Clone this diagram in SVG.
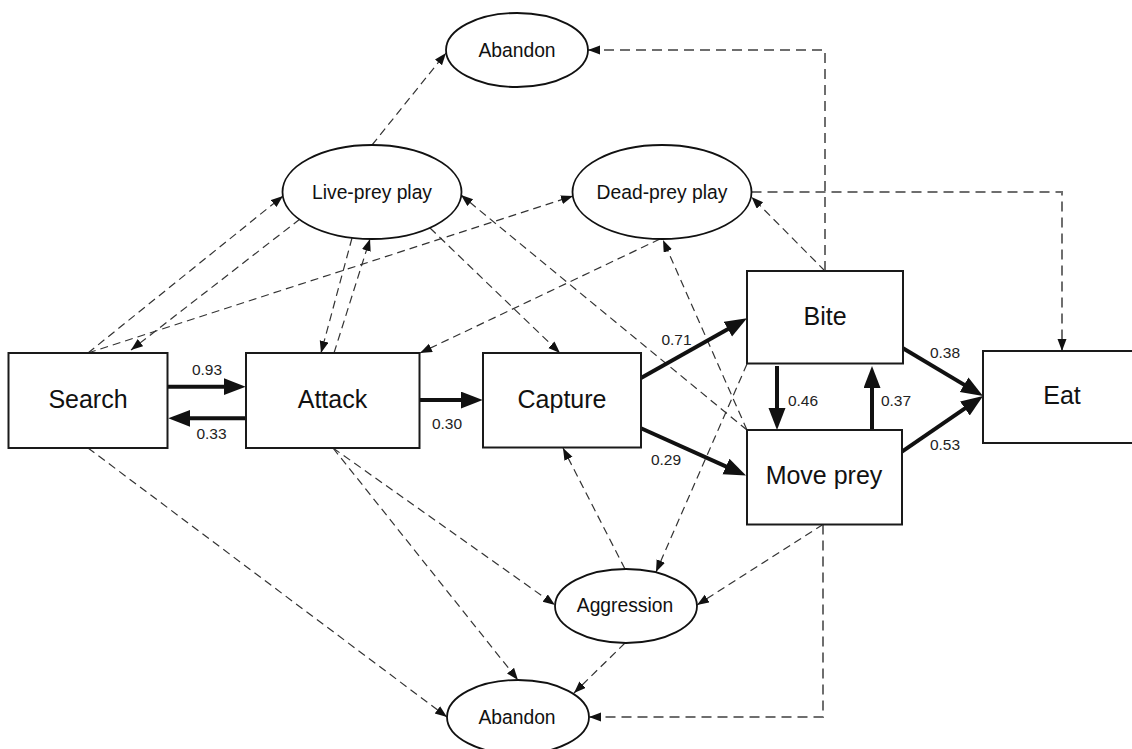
<svg xmlns="http://www.w3.org/2000/svg" width="1132" height="749" viewBox="0 0 1132 749">
<style>
.box{fill:#fff;stroke:#1a1a1a;stroke-width:2}
.ell{fill:#fff;stroke:#111;stroke-width:1.8}
.bt{font-family:"Liberation Sans",Arial,sans-serif;font-size:25px;fill:#111;text-anchor:middle}
.et{font-family:"Liberation Sans",Arial,sans-serif;font-size:19.3px;fill:#111;text-anchor:middle}
.nt{font-family:"Liberation Sans",Arial,sans-serif;font-size:15.5px;fill:#222;text-anchor:middle}
.thick{fill:none;stroke:#111;stroke-width:4;marker-end:url(#AH)}
.dash{fill:none;stroke:#333;stroke-width:1.2;stroke-dasharray:8 5;marker-end:url(#ah)}
.odash{fill:none;stroke:#6e6e6e;stroke-width:2;stroke-dasharray:10 6;marker-end:url(#ah)}
</style>
<defs>
<marker id="ah" markerWidth="13" markerHeight="10" refX="12" refY="4.5" orient="auto" markerUnits="userSpaceOnUse"><path d="M0,0 L12,4.5 L0,9 z" fill="#111"/></marker>
<marker id="AH" markerWidth="23" markerHeight="18" refX="12" refY="8.5" orient="auto" markerUnits="userSpaceOnUse"><path d="M0,0 L22,8.5 L0,17 z" fill="#111"/></marker>
</defs>
<rect width="1132" height="749" fill="#fff"/>
<g id="connectors">
<path class="dash" d="M88,353 L283,196"/>
<path class="dash" d="M300,219 L131,350"/>
<path class="dash" d="M88,353 L573,196"/>
<path class="dash" d="M352,238 L321,353"/>
<path class="dash" d="M334,353 L370,239"/>
<path class="dash" d="M430,228 L560,353"/>
<path class="dash" d="M747,430 L461,195"/>
<path class="dash" d="M660,239 L420,353"/>
<path class="dash" d="M747,430 L663,240"/>
<path class="dash" d="M825,271 L751.5,197"/>
<path class="odash" d="M825,271 L825,50 L588,50"/>
<path class="odash" d="M751.5,192 L1062,192 L1062,351"/>
<path class="dash" d="M747,364 L656,572"/>
<path class="dash" d="M625,569 L563,448"/>
<path class="dash" d="M823,524.5 L697,605"/>
<path class="odash" d="M823,524.5 L823,717 L589,717"/>
<path class="dash" d="M625,643 L574,693"/>
<path class="dash" d="M88,448 L447,717"/>
<path class="dash" d="M333,448 L555,605"/>
<path class="dash" d="M333,448 L518,680"/>
<path class="dash" d="M372,145 L446,53"/>
<path class="thick" d="M167.3,386.7 L235.7,386.7"/>
<path class="thick" d="M245.7,418.3 L178.3,418.3"/>
<path class="thick" d="M419.3,400 L472.7,400"/>
<path class="thick" d="M641,378 L738.3,323.2"/>
<path class="thick" d="M641,428.3 L736.9,471.4"/>
<path class="thick" d="M777,366 L777,420"/>
<path class="thick" d="M872,430 L872,376"/>
<path class="thick" d="M903,348.3 L974.4,390.9"/>
<path class="thick" d="M902,451.7 L974.8,401.7"/>
<text class="nt" x="207" y="375">0.93</text>
<text class="nt" x="211.5" y="439.3">0.33</text>
<text class="nt" x="447" y="429.3">0.30</text>
<text class="nt" x="676.5" y="345">0.71</text>
<text class="nt" x="666" y="465">0.29</text>
<text class="nt" x="803" y="405.7">0.46</text>
<text class="nt" x="896" y="405.7">0.37</text>
<text class="nt" x="945" y="358.3">0.38</text>
<text class="nt" x="945" y="450">0.53</text>
</g>
<g id="search"><rect class="box" x="8.5" y="353" width="159" height="95"/><text class="bt" x="88" y="407.7">Search</text></g>
<g id="attack"><rect class="box" x="246" y="353" width="173.5" height="95"/><text class="bt" x="332.5" y="407.7">Attack</text></g>
<g id="capture"><rect class="box" x="483" y="353" width="158" height="94.5"/><text class="bt" x="562" y="407.5">Capture</text></g>
<g id="bite"><rect class="box" x="747" y="271" width="156" height="92.5"/><text class="bt" x="825" y="324.5">Bite</text></g>
<g id="moveprey"><rect class="box" x="747" y="430" width="155" height="94.5"/><text class="bt" x="824" y="484">Move prey</text></g>
<g id="eat"><rect class="box" x="983" y="351" width="160" height="92"/><text class="bt" x="1062" y="404">Eat</text></g>
<g id="abandon-top"><ellipse class="ell" cx="517" cy="50" rx="71" ry="37"/><text class="et" x="517" y="56.5">Abandon</text></g>
<g id="liveprey"><ellipse class="ell" cx="372" cy="192" rx="89.5" ry="47"/><text class="et" x="372" y="198.5">Live-prey play</text></g>
<g id="deadprey"><ellipse class="ell" cx="662" cy="192" rx="89.5" ry="47"/><text class="et" x="662" y="198.5">Dead-prey play</text></g>
<g id="aggression"><ellipse class="ell" cx="626" cy="606" rx="71" ry="37"/><text class="et" x="625" y="611.5">Aggression</text></g>
<g id="abandon-bottom"><ellipse class="ell" cx="518" cy="717" rx="71" ry="37"/><text class="et" x="517" y="723.5">Abandon</text></g>
</svg>
